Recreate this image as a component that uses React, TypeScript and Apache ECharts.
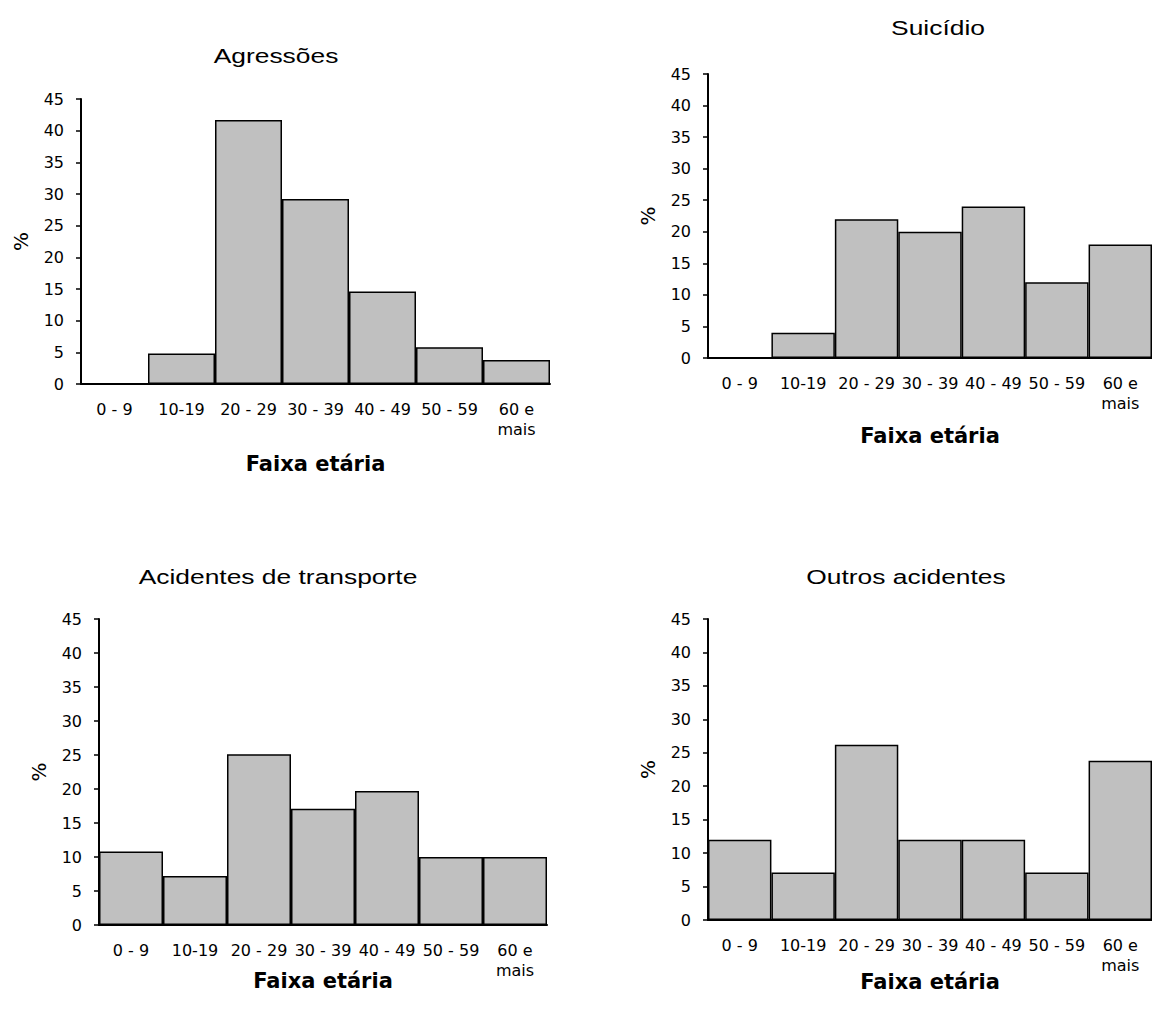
import React, { useEffect, useRef } from "react";
import * as echarts from "echarts";

const categories = ["0 - 9", "10-19", "20 - 29", "30 - 39", "40 - 49", "50 - 59", "60 e\nmais"];
const agressoes = [0, 4.8, 41.7, 29.2, 14.6, 5.8, 3.8];
const suicidio = [0, 4, 22, 20, 24, 12, 18];
const transporte = [10.8, 7.2, 25.1, 17.1, 19.7, 10, 10];
const outros = [12, 7.1, 26.2, 12, 12, 7.1, 23.8];
const titles = ["Agressões", "Suicídio", "Acidentes de transporte", "Outros acidentes"];
const xName = "Faixa etária";
const yName = "%";

const FONT = "'DejaVu Sans', Arial, sans-serif";
const TITLE_FONT = "'Liberation Sans', Arial, sans-serif";

export default function App() {
  const ref = useRef<HTMLDivElement>(null);
  useEffect(() => {
    if (!ref.current) return;
    const chart = echarts.init(ref.current, null, { renderer: "svg" });
    const grids = [
      { left: 81, top: 99, width: 469, height: 285 },
      { left: 708, top: 74, width: 451, height: 284 },
      { left: 99, top: 619, width: 448, height: 306 },
      { left: 708, top: 619, width: 450, height: 301 },
    ];
    const nameGaps = [68, 66, 44, 50];
    const datasets = [agressoes, suicidio, transporte, outros];
    const titlePos = [
      [276, 56],
      [938, 28],
      [278, 577],
      [906, 577],
    ];
    const option: any = {
      animation: false,
      backgroundColor: "#ffffff",
      grid: grids.map((g) => ({ ...g, containLabel: false })),
      graphic: titles.map((t, i) => ({
        type: "text",
        x: titlePos[i][0],
        y: titlePos[i][1],
        scaleX: 1.32,
        style: {
          text: t,
          font: `20px ${TITLE_FONT}`,
          fill: "#000",
          textAlign: "center",
          textVerticalAlign: "middle",
        },
      })),
      xAxis: grids.map((_, i) => ({
        type: "category",
        gridIndex: i,
        data: categories,
        name: xName,
        nameLocation: "middle",
        nameGap: nameGaps[i],
        nameMoveOverlap: false,
        nameTextStyle: {
          fontFamily: FONT,
          fontWeight: "bold",
          fontSize: 21,
          color: "#000",
          lineHeight: 24,
        },
        axisLine: { show: true, lineStyle: { color: "#000", width: 2 } },
        axisTick: { show: false },
        axisLabel: {
          interval: 0,
          fontFamily: FONT,
          fontSize: 16,
          color: "#000",
          lineHeight: 20,
          margin: 15,
        },
        splitLine: { show: false },
      })),
      yAxis: grids.map((_, i) => ({
        type: "value",
        gridIndex: i,
        min: 0,
        max: 45,
        interval: 5,
        name: yName,
        nameLocation: "middle",
        nameRotate: 90,
        nameGap: 50,
        nameMoveOverlap: false,
        nameTextStyle: { fontFamily: FONT, fontSize: 20, color: "#000" },
        axisLine: { show: true, lineStyle: { color: "#000", width: 2 } },
        axisTick: { show: true, length: 5, lineStyle: { color: "#000", width: 1.5 } },
        axisLabel: { fontFamily: FONT, fontSize: 16, color: "#000", margin: 17 },
        splitLine: { show: false },
      })),
      series: datasets.map((d, i) => ({
        type: "bar",
        xAxisIndex: i,
        yAxisIndex: i,
        data: d,
        barCategoryGap: "0%",
        itemStyle: { color: "#c0c0c0", borderColor: "#000", borderWidth: 1.5 },
      })),
    };
    chart.setOption(option);
    return () => chart.dispose();
  }, []);
  return (
    <div
      ref={ref}
      style={{ position: "fixed", left: 0, top: 0, width: 1152, height: 1014 }}
    />
  );
}
